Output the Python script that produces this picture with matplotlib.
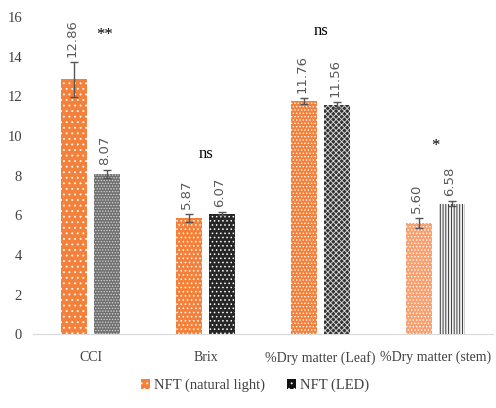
import matplotlib
matplotlib.use('Agg')
import matplotlib.pyplot as plt
from matplotlib.patches import Patch
import numpy as np

plt.rcParams['hatch.linewidth'] = 0.6

categories = ['CCI', 'Brix', '%Dry matter (Leaf)', '%Dry matter (stem)']
natural = [12.86, 5.87, 11.76, 5.60]
natural_err = [0.9, 0.2, 0.15, 0.25]
led = [8.07, 6.07, 11.56, 6.58]
led_err = [0.2, 0.08, 0.15, 0.13]
signif = ['**', 'ns', 'ns', '*']
series_names = ['NFT (natural light)', 'NFT (LED)']

# per-bar fills, imitating the Excel pattern fills
nat_face = ['#F4813B', '#F4813B', '#F4813B', '#F8A070']
nat_hatch = ['...', '....', '.....', '.....']
led_face = ['#707070', '#262626', '#333333', '#F0F0F0']
led_hatch = ['......', '....', 'xxxxxx', '||||||']
led_hcol = ['#D8D8D8', '#FFFFFF', '#E0E0E0', '#202020']

fig = plt.figure(figsize=(4.96, 4.08), dpi=100)
ax = fig.add_axes([0.0665, 0.181, 0.928, 0.777])

x = np.arange(len(categories))
w = 0.226
off = 0.1435

for i in range(len(categories)):
    ax.bar(x[i] - off, natural[i], w, color=nat_face[i], hatch=nat_hatch[i],
           edgecolor='white', linewidth=0, zorder=2)
    ax.bar(x[i] + off, led[i], w, color=led_face[i], hatch=led_hatch[i],
           edgecolor=led_hcol[i], linewidth=0, zorder=2)
ax.errorbar(x - off, natural, yerr=natural_err, fmt='none', ecolor='#555555',
            elinewidth=1, capsize=3, capthick=1, zorder=3)
ax.errorbar(x + off, led, yerr=led_err, fmt='none', ecolor='#555555',
            elinewidth=1, capsize=3, capthick=1, zorder=3)

for i in range(len(categories)):
    for xv, v, e in ((x[i] - off, natural[i], natural_err[i]), (x[i] + off, led[i], led_err[i])):
        ax.text(xv - 0.02, v + e + 0.25, f'{v:.2f}', rotation=90, ha='center', va='bottom',
                fontsize=9.5, color='#595959', family='DejaVu Sans')

# significance marks
sig_x = [x[0] + off - 0.02, x[1], x[2], x[3]]
sig_y = [15.1, 9.1, 15.3, 9.5]
for i in range(len(categories)):
    ax.text(sig_x[i], sig_y[i], signif[i], ha='center', va='center',
            fontsize=12, color='black', family='Liberation Serif')

ax.set_xlim(-0.5, 3.5)
ax.set_ylim(0, 16)
ax.set_yticks(range(0, 17, 2))
ax.set_xticks(x)
ax.set_xticklabels(categories, family='Liberation Serif', fontsize=10, color='#404040')
for t in ax.get_yticklabels():
    t.set_family('Liberation Serif')
    t.set_fontsize(10.5)
    t.set_color('#404040')
ax.tick_params(axis='both', length=0)
ax.tick_params(axis='x', pad=12)
ax.tick_params(axis='y', pad=8)
for s in ['top', 'right', 'left']:
    ax.spines[s].set_visible(False)
ax.spines['bottom'].set_color('#D9D9D9')

handles = [Patch(facecolor='#F4813B', hatch='...', edgecolor='white', linewidth=0),
           Patch(facecolor='#111111', hatch='...', edgecolor='white', linewidth=0)]
fig.legend(handles, series_names, loc='center', bbox_to_anchor=(0.515, 0.055), ncol=2,
           frameon=False, prop={'family': 'Liberation Serif', 'size': 10.5},
           handlelength=0.6, handleheight=0.7, handletextpad=0.3, columnspacing=1.5,
           labelcolor='#404040')

fig.savefig('out.png', dpi=100)
